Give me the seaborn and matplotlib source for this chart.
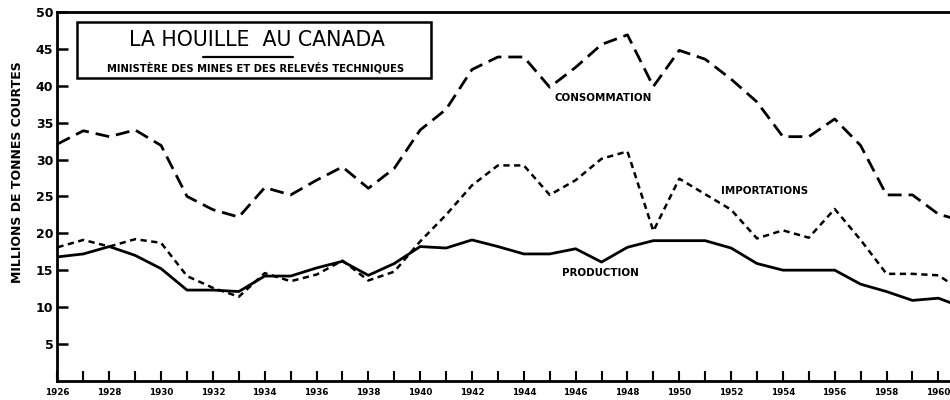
import numpy as np
import pandas as pd
import matplotlib.pyplot as plt
import seaborn as sns
from matplotlib.patches import Rectangle

# Values (millions of short tons)
years = list(range(1926, 1962))
consommation = [32.1, 33.9, 33.1, 34.0, 31.9, 25.0, 23.2, 22.2, 26.2, 25.2,
                27.2, 29.0, 26.1, 28.8, 34.0, 36.8, 42.2, 43.9, 43.9, 39.8,
                42.5, 45.6, 46.9, 39.9, 44.8, 43.6, 40.9, 37.8, 33.1, 33.1,
                35.5, 31.9, 25.2, 25.2, 22.6, 21.6]
importations = [18.1, 19.1, 18.2, 19.2, 18.7, 14.2, 12.6, 11.4, 14.6, 13.5,
                14.4, 16.3, 13.6, 14.8, 18.9, 22.5, 26.5, 29.2, 29.2, 25.2,
                27.2, 30.1, 31.1, 20.3, 27.4, 25.3, 23.2, 19.3, 20.4, 19.4,
                23.3, 19.1, 14.5, 14.5, 14.3, 12.0]
production = [16.8, 17.2, 18.2, 17.0, 15.2, 12.3, 12.3, 12.1, 14.2, 14.2,
              15.3, 16.2, 14.3, 15.9, 18.2, 18.0, 19.1, 18.2, 17.2, 17.2,
              17.9, 16.1, 18.1, 19.0, 19.0, 19.0, 18.0, 15.9, 15.0, 15.0,
              15.0, 13.1, 12.1, 10.9, 11.2, 9.9]

y_ticks = [5, 10, 15, 20, 25, 30, 35, 40, 45, 50]
x_labels = list(range(1926, 1961, 2))

df = pd.DataFrame({'Année': years, 'CONSOMMATION': consommation,
                   'IMPORTATIONS': importations, 'PRODUCTION': production})

sns.set_style("white")
plt.rcParams['font.family'] = ['DejaVu Sans']
plt.rcParams.update({'text.color': 'black', 'axes.labelcolor': 'black',
                     'xtick.color': 'black', 'ytick.color': 'black'})

fig = plt.figure(figsize=(9.5, 4), dpi=100)
ax = fig.add_axes([0.0605, 0.048, 0.9395, 0.922])

sns.lineplot(data=df, x='Année', y='CONSOMMATION', ax=ax, color='black',
             linewidth=2.0, linestyle=(0, (5, 2.5)))
sns.lineplot(data=df, x='Année', y='IMPORTATIONS', ax=ax, color='black',
             linewidth=1.8, linestyle=(0, (2.5, 1.8)))
sns.lineplot(data=df, x='Année', y='PRODUCTION', ax=ax, color='black',
             linewidth=2.0)

ax.set_xlim(1926, 1960.45)
ax.set_ylim(0, 50)

for side in ['left', 'bottom', 'top']:
    ax.spines[side].set_visible(True)
    ax.spines[side].set_color('black')
    ax.spines[side].set_linewidth(2)
ax.spines['right'].set_visible(False)

ax.set_yticks(y_ticks)
ax.set_yticklabels([str(v) for v in y_ticks], fontweight='bold', fontsize=9)
ax.set_xticks(years[:-1])
ax.set_xticklabels([str(y) if y in x_labels else '' for y in years[:-1]],
                   fontweight='bold', fontsize=6.3)
ax.tick_params(axis='y', direction='in', length=8, width=1.8, pad=3,
               left=True, labelleft=True)
ax.tick_params(axis='x', direction='in', length=7, width=1.5, pad=5,
               bottom=True, labelbottom=True)

ax.set_xlabel('')
ax.set_ylabel('MILLIONS DE TONNES COURTES', fontsize=9, fontweight='bold')
ax.yaxis.set_label_coords(-0.037, 0.566)

# Series labels
ax.text(1947.07, 38.3, 'CONSOMMATION', fontsize=7.4, fontweight='bold',
        ha='center', va='center')
ax.text(1953.3, 25.7, 'IMPORTATIONS', fontsize=7.4, fontweight='bold',
        ha='center', va='center')
ax.text(1946.95, 14.6, 'PRODUCTION', fontsize=7.4, fontweight='bold',
        ha='center', va='center')

# Title box
ax.add_patch(Rectangle((0.022, 0.82), 0.397, 0.152, transform=ax.transAxes,
                       facecolor='white', edgecolor='black', linewidth=1.8,
                       zorder=5))
ax.text(0.224, 0.925, 'LA HOUILLE  AU CANADA', transform=ax.transAxes,
        fontsize=14.8, ha='center', va='center', zorder=6)
ax.plot([0.163, 0.264], [0.877, 0.877], transform=ax.transAxes,
        color='black', linewidth=1.6, zorder=6)
ax.text(0.222, 0.848, 'MINISTÈRE DES MINES ET DES RELEVÉS TECHNIQUES',
        transform=ax.transAxes, fontsize=7.2, fontweight='bold',
        ha='center', va='center', zorder=6)

fig.savefig('out.png', dpi=100)
